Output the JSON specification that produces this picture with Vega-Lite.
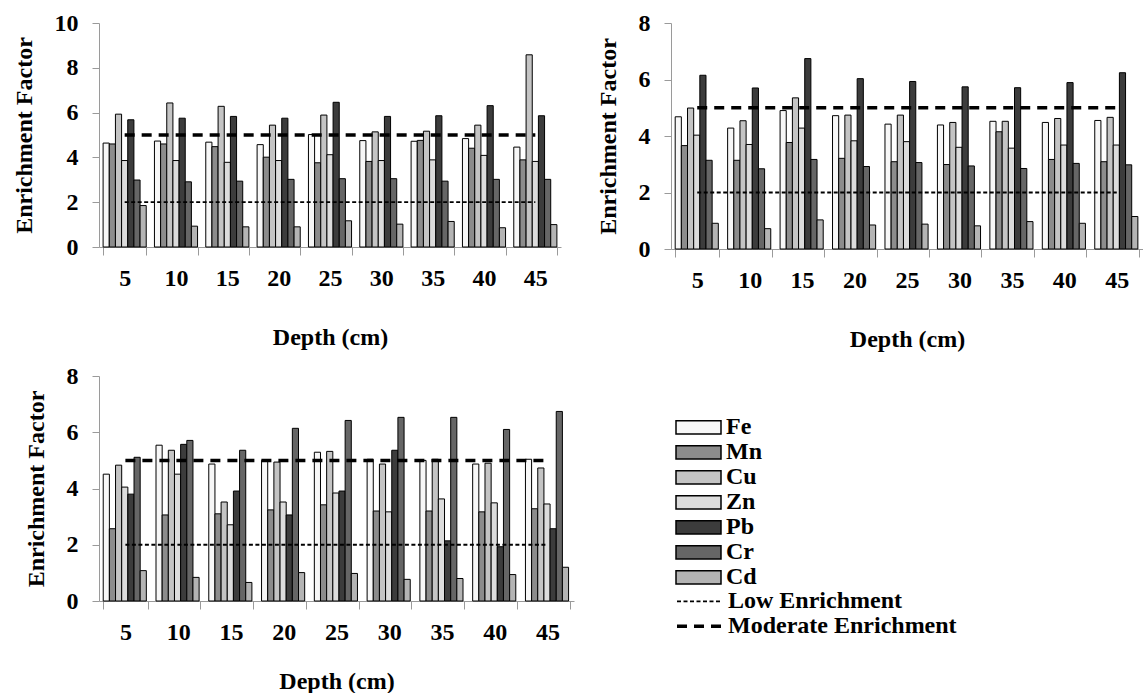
{
  "$schema": "https://vega.github.io/schema/vega-lite/v6.json",
  "padding": {"left": 12, "top": 11, "right": 0, "bottom": 0},
  "background": "white",
  "config": {
    "view": {"stroke": null},
    "font": "Liberation Serif",
    "axis": {"labelFont": "Liberation Serif", "labelFontSize": 24, "labelFontWeight": "bold", "labelColor": "black", "titleFont": "Liberation Serif", "titleFontSize": 24, "titleFontWeight": "bold", "titleColor": "black", "domainColor": "#9a9a9a", "tickColor": "#9a9a9a", "grid": false},
    "axisX": {"labelAngle": 0, "tickSize": 8, "labelPadding": 11, "titlePadding": 35, "tickBand": "extent"},
    "axisY": {"tickSize": 7, "labelPadding": 14, "titlePadding": 18},
    "legend": {"labelFont": "Liberation Serif", "labelFontSize": 24, "labelFontWeight": "bold", "labelColor": "black", "labelLimit": 400, "clipHeight": 24.7, "rowPadding": 0, "symbolStrokeColor": "black", "labelOffset": 4}
  },
  "datasets": {
    "bars": [
      {"p":"A","d":5,"e":"Fe","v":4.64},{"p":"A","d":5,"e":"Mn","v":4.6},{"p":"A","d":5,"e":"Cu","v":5.93},{"p":"A","d":5,"e":"Zn","v":3.86},{"p":"A","d":5,"e":"Pb","v":5.68},{"p":"A","d":5,"e":"Cr","v":2.99},{"p":"A","d":5,"e":"Cd","v":1.85},
      {"p":"A","d":10,"e":"Fe","v":4.73},{"p":"A","d":10,"e":"Mn","v":4.6},{"p":"A","d":10,"e":"Cu","v":6.43},{"p":"A","d":10,"e":"Zn","v":3.86},{"p":"A","d":10,"e":"Pb","v":5.75},{"p":"A","d":10,"e":"Cr","v":2.91},{"p":"A","d":10,"e":"Cd","v":0.93},
      {"p":"A","d":15,"e":"Fe","v":4.68},{"p":"A","d":15,"e":"Mn","v":4.48},{"p":"A","d":15,"e":"Cu","v":6.28},{"p":"A","d":15,"e":"Zn","v":3.78},{"p":"A","d":15,"e":"Pb","v":5.83},{"p":"A","d":15,"e":"Cr","v":2.94},{"p":"A","d":15,"e":"Cd","v":0.9},
      {"p":"A","d":20,"e":"Fe","v":4.57},{"p":"A","d":20,"e":"Mn","v":4.01},{"p":"A","d":20,"e":"Cu","v":5.44},{"p":"A","d":20,"e":"Zn","v":3.86},{"p":"A","d":20,"e":"Pb","v":5.75},{"p":"A","d":20,"e":"Cr","v":3.02},{"p":"A","d":20,"e":"Cd","v":0.9},
      {"p":"A","d":25,"e":"Fe","v":5.02},{"p":"A","d":25,"e":"Mn","v":3.76},{"p":"A","d":25,"e":"Cu","v":5.89},{"p":"A","d":25,"e":"Zn","v":4.12},{"p":"A","d":25,"e":"Pb","v":6.46},{"p":"A","d":25,"e":"Cr","v":3.05},{"p":"A","d":25,"e":"Cd","v":1.17},
      {"p":"A","d":30,"e":"Fe","v":4.75},{"p":"A","d":30,"e":"Mn","v":3.82},{"p":"A","d":30,"e":"Cu","v":5.14},{"p":"A","d":30,"e":"Zn","v":3.86},{"p":"A","d":30,"e":"Pb","v":5.83},{"p":"A","d":30,"e":"Cr","v":3.05},{"p":"A","d":30,"e":"Cd","v":1.02},
      {"p":"A","d":35,"e":"Fe","v":4.72},{"p":"A","d":35,"e":"Mn","v":4.76},{"p":"A","d":35,"e":"Cu","v":5.17},{"p":"A","d":35,"e":"Zn","v":3.89},{"p":"A","d":35,"e":"Pb","v":5.86},{"p":"A","d":35,"e":"Cr","v":2.94},{"p":"A","d":35,"e":"Cd","v":1.14},
      {"p":"A","d":40,"e":"Fe","v":4.84},{"p":"A","d":40,"e":"Mn","v":4.41},{"p":"A","d":40,"e":"Cu","v":5.44},{"p":"A","d":40,"e":"Zn","v":4.09},{"p":"A","d":40,"e":"Pb","v":6.31},{"p":"A","d":40,"e":"Cr","v":3.02},{"p":"A","d":40,"e":"Cd","v":0.86},
      {"p":"A","d":45,"e":"Fe","v":4.46},{"p":"A","d":45,"e":"Mn","v":3.89},{"p":"A","d":45,"e":"Cu","v":8.58},{"p":"A","d":45,"e":"Zn","v":3.82},{"p":"A","d":45,"e":"Pb","v":5.86},{"p":"A","d":45,"e":"Cr","v":3.02},{"p":"A","d":45,"e":"Cd","v":1.0},
      {"p":"B","d":5,"e":"Fe","v":4.68},{"p":"B","d":5,"e":"Mn","v":3.66},{"p":"B","d":5,"e":"Cu","v":4.99},{"p":"B","d":5,"e":"Zn","v":4.03},{"p":"B","d":5,"e":"Pb","v":6.15},{"p":"B","d":5,"e":"Cr","v":3.14},{"p":"B","d":5,"e":"Cd","v":0.91},
      {"p":"B","d":10,"e":"Fe","v":4.28},{"p":"B","d":10,"e":"Mn","v":3.14},{"p":"B","d":10,"e":"Cu","v":4.54},{"p":"B","d":10,"e":"Zn","v":3.7},{"p":"B","d":10,"e":"Pb","v":5.7},{"p":"B","d":10,"e":"Cr","v":2.84},{"p":"B","d":10,"e":"Cd","v":0.72},
      {"p":"B","d":15,"e":"Fe","v":4.9},{"p":"B","d":15,"e":"Mn","v":3.77},{"p":"B","d":15,"e":"Cu","v":5.35},{"p":"B","d":15,"e":"Zn","v":4.28},{"p":"B","d":15,"e":"Pb","v":6.74},{"p":"B","d":15,"e":"Cr","v":3.17},{"p":"B","d":15,"e":"Cd","v":1.03},
      {"p":"B","d":20,"e":"Fe","v":4.72},{"p":"B","d":20,"e":"Mn","v":3.21},{"p":"B","d":20,"e":"Cu","v":4.74},{"p":"B","d":20,"e":"Zn","v":3.83},{"p":"B","d":20,"e":"Pb","v":6.03},{"p":"B","d":20,"e":"Cr","v":2.92},{"p":"B","d":20,"e":"Cd","v":0.85},
      {"p":"B","d":25,"e":"Fe","v":4.42},{"p":"B","d":25,"e":"Mn","v":3.09},{"p":"B","d":25,"e":"Cu","v":4.74},{"p":"B","d":25,"e":"Zn","v":3.8},{"p":"B","d":25,"e":"Pb","v":5.93},{"p":"B","d":25,"e":"Cr","v":3.06},{"p":"B","d":25,"e":"Cd","v":0.88},
      {"p":"B","d":30,"e":"Fe","v":4.39},{"p":"B","d":30,"e":"Mn","v":2.99},{"p":"B","d":30,"e":"Cu","v":4.48},{"p":"B","d":30,"e":"Zn","v":3.6},{"p":"B","d":30,"e":"Pb","v":5.74},{"p":"B","d":30,"e":"Cr","v":2.94},{"p":"B","d":30,"e":"Cd","v":0.82},
      {"p":"B","d":35,"e":"Fe","v":4.52},{"p":"B","d":35,"e":"Mn","v":4.15},{"p":"B","d":35,"e":"Cu","v":4.52},{"p":"B","d":35,"e":"Zn","v":3.57},{"p":"B","d":35,"e":"Pb","v":5.71},{"p":"B","d":35,"e":"Cr","v":2.85},{"p":"B","d":35,"e":"Cd","v":0.97},
      {"p":"B","d":40,"e":"Fe","v":4.48},{"p":"B","d":40,"e":"Mn","v":3.17},{"p":"B","d":40,"e":"Cu","v":4.62},{"p":"B","d":40,"e":"Zn","v":3.68},{"p":"B","d":40,"e":"Pb","v":5.89},{"p":"B","d":40,"e":"Cr","v":3.03},{"p":"B","d":40,"e":"Cd","v":0.91},
      {"p":"B","d":45,"e":"Fe","v":4.55},{"p":"B","d":45,"e":"Mn","v":3.09},{"p":"B","d":45,"e":"Cu","v":4.66},{"p":"B","d":45,"e":"Zn","v":3.68},{"p":"B","d":45,"e":"Pb","v":6.24},{"p":"B","d":45,"e":"Cr","v":2.98},{"p":"B","d":45,"e":"Cd","v":1.15},
      {"p":"C","d":5,"e":"Fe","v":4.51},{"p":"C","d":5,"e":"Mn","v":2.57},{"p":"C","d":5,"e":"Cu","v":4.83},{"p":"C","d":5,"e":"Zn","v":4.05},{"p":"C","d":5,"e":"Pb","v":3.8},{"p":"C","d":5,"e":"Cr","v":5.11},{"p":"C","d":5,"e":"Cd","v":1.08},
      {"p":"C","d":10,"e":"Fe","v":5.54},{"p":"C","d":10,"e":"Mn","v":3.06},{"p":"C","d":10,"e":"Cu","v":5.36},{"p":"C","d":10,"e":"Zn","v":4.51},{"p":"C","d":10,"e":"Pb","v":5.57},{"p":"C","d":10,"e":"Cr","v":5.71},{"p":"C","d":10,"e":"Cd","v":0.84},
      {"p":"C","d":15,"e":"Fe","v":4.87},{"p":"C","d":15,"e":"Mn","v":3.1},{"p":"C","d":15,"e":"Cu","v":3.52},{"p":"C","d":15,"e":"Zn","v":2.71},{"p":"C","d":15,"e":"Pb","v":3.91},{"p":"C","d":15,"e":"Cr","v":5.36},{"p":"C","d":15,"e":"Cd","v":0.66},
      {"p":"C","d":20,"e":"Fe","v":5.0},{"p":"C","d":20,"e":"Mn","v":3.24},{"p":"C","d":20,"e":"Cu","v":4.94},{"p":"C","d":20,"e":"Zn","v":3.52},{"p":"C","d":20,"e":"Pb","v":3.06},{"p":"C","d":20,"e":"Cr","v":6.14},{"p":"C","d":20,"e":"Cd","v":1.01},
      {"p":"C","d":25,"e":"Fe","v":5.29},{"p":"C","d":25,"e":"Mn","v":3.42},{"p":"C","d":25,"e":"Cu","v":5.32},{"p":"C","d":25,"e":"Zn","v":3.84},{"p":"C","d":25,"e":"Pb","v":3.91},{"p":"C","d":25,"e":"Cr","v":6.42},{"p":"C","d":25,"e":"Cd","v":0.98},
      {"p":"C","d":30,"e":"Fe","v":5.04},{"p":"C","d":30,"e":"Mn","v":3.2},{"p":"C","d":30,"e":"Cu","v":4.87},{"p":"C","d":30,"e":"Zn","v":3.17},{"p":"C","d":30,"e":"Pb","v":5.36},{"p":"C","d":30,"e":"Cr","v":6.53},{"p":"C","d":30,"e":"Cd","v":0.77},
      {"p":"C","d":35,"e":"Fe","v":5.0},{"p":"C","d":35,"e":"Mn","v":3.2},{"p":"C","d":35,"e":"Cu","v":5.04},{"p":"C","d":35,"e":"Zn","v":3.63},{"p":"C","d":35,"e":"Pb","v":2.14},{"p":"C","d":35,"e":"Cr","v":6.53},{"p":"C","d":35,"e":"Cd","v":0.8},
      {"p":"C","d":40,"e":"Fe","v":4.87},{"p":"C","d":40,"e":"Mn","v":3.17},{"p":"C","d":40,"e":"Cu","v":4.9},{"p":"C","d":40,"e":"Zn","v":3.49},{"p":"C","d":40,"e":"Pb","v":1.93},{"p":"C","d":40,"e":"Cr","v":6.1},{"p":"C","d":40,"e":"Cd","v":0.94},
      {"p":"C","d":45,"e":"Fe","v":5.04},{"p":"C","d":45,"e":"Mn","v":3.28},{"p":"C","d":45,"e":"Cu","v":4.73},{"p":"C","d":45,"e":"Zn","v":3.45},{"p":"C","d":45,"e":"Pb","v":2.57},{"p":"C","d":45,"e":"Cr","v":6.74},{"p":"C","d":45,"e":"Cd","v":1.2}
    ],
    "lines": [
      {"d":5,"line":"Low Enrichment","v":2},{"d":10,"line":"Low Enrichment","v":2},{"d":15,"line":"Low Enrichment","v":2},{"d":20,"line":"Low Enrichment","v":2},{"d":25,"line":"Low Enrichment","v":2},{"d":30,"line":"Low Enrichment","v":2},{"d":35,"line":"Low Enrichment","v":2},{"d":40,"line":"Low Enrichment","v":2},{"d":45,"line":"Low Enrichment","v":2},
      {"d":5,"line":"Moderate Enrichment","v":5},{"d":10,"line":"Moderate Enrichment","v":5},{"d":15,"line":"Moderate Enrichment","v":5},{"d":20,"line":"Moderate Enrichment","v":5},{"d":25,"line":"Moderate Enrichment","v":5},{"d":30,"line":"Moderate Enrichment","v":5},{"d":35,"line":"Moderate Enrichment","v":5},{"d":40,"line":"Moderate Enrichment","v":5},{"d":45,"line":"Moderate Enrichment","v":5}
    ]
  },
  "spacing": 13,
  "vconcat": [
    {
      "spacing": 35,
      "hconcat": [
        {
          "width": 462, "height": 224,
          "layer": [
            {
              "data": {"name": "bars"},
              "transform": [{"filter": "datum.p === 'A'"}],
              "mark": {"type": "bar", "stroke": "black", "strokeWidth": 1},
              "encoding": {
                "x": {"field": "d", "type": "ordinal", "title": "Depth (cm)", "scale": {"domain": [5,10,15,20,25,30,35,40,45], "paddingInner": 0.16, "paddingOuter": 0.08}},
                "xOffset": {"field": "e", "type": "nominal", "scale": {"domain": ["Fe","Mn","Cu","Zn","Pb","Cr","Cd"], "paddingInner": 0, "paddingOuter": 0}},
                "y": {"field": "v", "type": "quantitative", "title": "Enrichment Factor", "scale": {"domain": [0, 10]}, "axis": {"values": [0,2,4,6,8,10]}},
                "color": {"field": "e", "type": "nominal", "scale": {"domain": ["Fe","Mn","Cu","Zn","Pb","Cr","Cd"], "range": ["#f7f7f7","#8c8c8c","#c4c4c4","#dcdcdc","#3c3c3c","#666666","#b4b4b4"]}, "legend": {"title": null, "orient": "none", "legendX": 576, "legendY": 392, "symbolType": "M-1,-0.29H1V0.29H-1Z", "symbolSize": 2025, "symbolStrokeWidth": 1.5}}
              }
            },
            {
              "data": {"name": "lines"},
              "mark": {"type": "line", "color": "black"},
              "encoding": {
                "x": {"field": "d", "type": "ordinal"},
                "y": {"field": "v", "type": "quantitative"},
                "strokeDash": {"field": "line", "type": "nominal", "scale": {"domain": ["Low Enrichment","Moderate Enrichment"], "range": [[4,2.5],[10,7]]}, "legend": {"title": null, "orient": "none", "legendX": 576, "legendY": 566, "symbolType": "stroke", "symbolSize": 2025, "symbolStrokeWidth": 2}},
                "strokeWidth": {"field": "line", "type": "ordinal", "scale": {"domain": ["Low Enrichment","Moderate Enrichment"], "range": [1.8,3.5]}, "legend": null}
              }
            }
          ]
        },
        {
          "width": 472, "height": 226,
          "layer": [
            {
              "data": {"name": "bars"},
              "transform": [{"filter": "datum.p === 'B'"}],
              "mark": {"type": "bar", "stroke": "black", "strokeWidth": 1},
              "encoding": {
                "x": {"field": "d", "type": "ordinal", "title": "Depth (cm)", "scale": {"domain": [5,10,15,20,25,30,35,40,45], "paddingInner": 0.16, "paddingOuter": 0.08}},
                "xOffset": {"field": "e", "type": "nominal", "scale": {"domain": ["Fe","Mn","Cu","Zn","Pb","Cr","Cd"], "paddingInner": 0, "paddingOuter": 0}},
                "y": {"field": "v", "type": "quantitative", "title": "Enrichment Factor", "scale": {"domain": [0, 8]}, "axis": {"values": [0,2,4,6,8]}},
                "color": {"field": "e", "type": "nominal", "scale": {"domain": ["Fe","Mn","Cu","Zn","Pb","Cr","Cd"], "range": ["#f7f7f7","#8c8c8c","#c4c4c4","#dcdcdc","#3c3c3c","#666666","#b4b4b4"]}, "legend": {"title": null, "orient": "none", "legendX": 576, "legendY": 392, "symbolType": "M-1,-0.29H1V0.29H-1Z", "symbolSize": 2025, "symbolStrokeWidth": 1.5}}
              }
            },
            {
              "data": {"name": "lines"},
              "mark": {"type": "line", "color": "black"},
              "encoding": {
                "x": {"field": "d", "type": "ordinal"},
                "y": {"field": "v", "type": "quantitative"},
                "strokeDash": {"field": "line", "type": "nominal", "scale": {"domain": ["Low Enrichment","Moderate Enrichment"], "range": [[4,2.5],[10,7]]}, "legend": {"title": null, "orient": "none", "legendX": 576, "legendY": 566, "symbolType": "stroke", "symbolSize": 2025, "symbolStrokeWidth": 2}},
                "strokeWidth": {"field": "line", "type": "ordinal", "scale": {"domain": ["Low Enrichment","Moderate Enrichment"], "range": [1.8,3.5]}, "legend": null}
              }
            }
          ]
        }
      ]
    },
    {
      "width": 475, "height": 225,
      "layer": [
        {
          "data": {"name": "bars"},
          "transform": [{"filter": "datum.p === 'C'"}],
          "mark": {"type": "bar", "stroke": "black", "strokeWidth": 1},
          "encoding": {
            "x": {"field": "d", "type": "ordinal", "title": "Depth (cm)", "scale": {"domain": [5,10,15,20,25,30,35,40,45], "paddingInner": 0.16, "paddingOuter": 0.08}, "axis": {"labelPadding": 11, "titlePadding": 25}},
            "xOffset": {"field": "e", "type": "nominal", "scale": {"domain": ["Fe","Mn","Cu","Zn","Pb","Cr","Cd"], "paddingInner": 0, "paddingOuter": 0}},
            "y": {"field": "v", "type": "quantitative", "title": "Enrichment Factor", "scale": {"domain": [0, 8]}, "axis": {"values": [0,2,4,6,8]}},
            "color": {"field": "e", "type": "nominal", "scale": {"domain": ["Fe","Mn","Cu","Zn","Pb","Cr","Cd"], "range": ["#f7f7f7","#8c8c8c","#c4c4c4","#dcdcdc","#3c3c3c","#666666","#b4b4b4"]}, "legend": {"title": null, "orient": "none", "legendX": 576, "legendY": 392, "symbolType": "M-1,-0.29H1V0.29H-1Z", "symbolSize": 2025, "symbolStrokeWidth": 1.5}}
          }
        },
        {
          "data": {"name": "lines"},
          "mark": {"type": "line", "color": "black"},
          "encoding": {
            "x": {"field": "d", "type": "ordinal"},
            "y": {"field": "v", "type": "quantitative"},
            "strokeDash": {"field": "line", "type": "nominal", "scale": {"domain": ["Low Enrichment","Moderate Enrichment"], "range": [[4,2.5],[10,7]]}, "legend": {"title": null, "orient": "none", "legendX": 576, "legendY": 566, "symbolType": "stroke", "symbolSize": 2025, "symbolStrokeWidth": 2}},
            "strokeWidth": {"field": "line", "type": "ordinal", "scale": {"domain": ["Low Enrichment","Moderate Enrichment"], "range": [1.8,3.5]}, "legend": null}
          }
        }
      ]
    }
  ]
}
